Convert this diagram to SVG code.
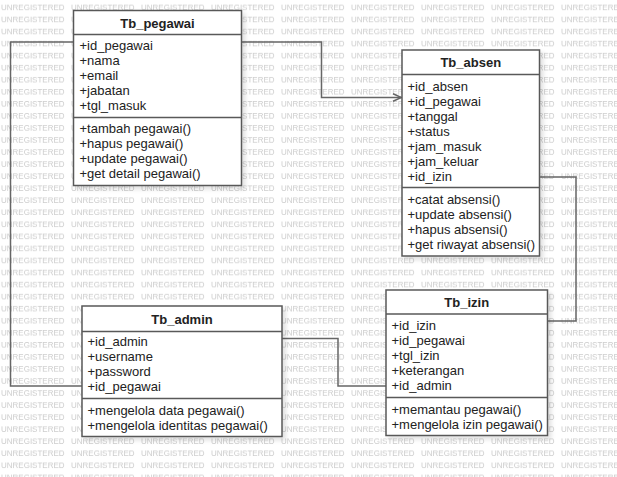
<svg xmlns="http://www.w3.org/2000/svg" width="617" height="477" viewBox="0 0 617 477">
<style>
.wm{font-family:"Liberation Sans",Arial,sans-serif;font-size:8px;fill:#cccccc}
.box{fill:#ffffff;stroke:#595959;stroke-width:1.5}
.div{stroke:#595959;stroke-width:1.5}
.t{font-family:"Liberation Sans",Arial,sans-serif;font-size:13px;fill:#222222}
.h{font-family:"Liberation Sans",Arial,sans-serif;font-size:13px;font-weight:bold;fill:#222222;text-anchor:middle}
.c{fill:none;stroke:#666666;stroke-width:1.5}
</style>
<defs>
<pattern id="wmp" patternUnits="userSpaceOnUse" x="0" y="0" width="70" height="12.05">
<text class="wm" x="1" y="10.5">UNREGISTERED</text>
</pattern>
<filter id="sh" x="-10%" y="-10%" width="130%" height="130%">
<feDropShadow dx="3" dy="3" stdDeviation="2" flood-color="#000000" flood-opacity="0.12"/>
</filter>
<marker id="open" viewBox="0 0 10 10" refX="9.5" refY="5" markerWidth="10" markerHeight="10" markerUnits="userSpaceOnUse" orient="auto">
<path d="M1,1.2 L9.5,5 L1,8.8" fill="none" stroke="#666666" stroke-width="1.5"/>
</marker>
</defs>
<rect width="617" height="477" fill="#ffffff"/>
<rect width="617" height="477" fill="url(#wmp)"/>
<g id="connectors">
<path class="c" d="M241.5,42 H321.5 V97.5 H401.5" marker-end="url(#open)"/>
<path class="c" d="M73.5,42 H10.5 V386 H82"/>
<path class="c" d="M282,338.5 H338 V386 H386"/>
<path class="c" d="M539.5,177 H576 V321 H547.5"/>
</g>
<g id="Tb_pegawai">
<rect class="box" x="73.5" y="10.5" width="168" height="175" filter="url(#sh)"/>
<line class="div" x1="73.5" y1="34.5" x2="241.5" y2="34.5"/>
<line class="div" x1="73.5" y1="117.5" x2="241.5" y2="117.5"/>
<text class="h" x="157.5" y="27.5">Tb_pegawai</text>
<text class="t" x="79.5" y="50">+id_pegawai</text>
<text class="t" x="79.5" y="65">+nama</text>
<text class="t" x="79.5" y="80">+email</text>
<text class="t" x="79.5" y="95">+jabatan</text>
<text class="t" x="79.5" y="110">+tgl_masuk</text>
<text class="t" x="79.5" y="133">+tambah pegawai()</text>
<text class="t" x="79.5" y="148">+hapus pegawai()</text>
<text class="t" x="79.5" y="163">+update pegawai()</text>
<text class="t" x="79.5" y="178">+get detail pegawai()</text>
</g>
<g id="Tb_absen">
<rect class="box" x="402" y="50" width="137.5" height="206" filter="url(#sh)"/>
<line class="div" x1="402" y1="74.5" x2="539.5" y2="74.5"/>
<line class="div" x1="402" y1="187.5" x2="539.5" y2="187.5"/>
<text class="h" x="470.75" y="67">Tb_absen</text>
<text class="t" x="407.5" y="90.5">+id_absen</text>
<text class="t" x="407.5" y="105.5">+id_pegawai</text>
<text class="t" x="407.5" y="120.5">+tanggal</text>
<text class="t" x="407.5" y="135.5">+status</text>
<text class="t" x="407.5" y="150.5">+jam_masuk</text>
<text class="t" x="407.5" y="165.5">+jam_keluar</text>
<text class="t" x="407.5" y="180.5">+id_izin</text>
<text class="t" x="407.5" y="204">+catat absensi()</text>
<text class="t" x="407.5" y="219">+update absensi()</text>
<text class="t" x="407.5" y="234">+hapus absensi()</text>
<text class="t" x="407.5" y="249">+get riwayat absensi()</text>
</g>
<g id="Tb_admin">
<rect class="box" x="82" y="306" width="200" height="130.5" filter="url(#sh)"/>
<line class="div" x1="82" y1="331.5" x2="282" y2="331.5"/>
<line class="div" x1="82" y1="398.5" x2="282" y2="398.5"/>
<text class="h" x="182" y="323.5">Tb_admin</text>
<text class="t" x="87.5" y="346">+id_admin</text>
<text class="t" x="87.5" y="361">+username</text>
<text class="t" x="87.5" y="376">+password</text>
<text class="t" x="87.5" y="391">+id_pegawai</text>
<text class="t" x="87.5" y="414.5">+mengelola data pegawai()</text>
<text class="t" x="87.5" y="429.5">+mengelola identitas pegawai()</text>
</g>
<g id="Tb_izin">
<rect class="box" x="386" y="290" width="161.5" height="145.5" filter="url(#sh)"/>
<line class="div" x1="386" y1="314" x2="547.5" y2="314"/>
<line class="div" x1="386" y1="397.5" x2="547.5" y2="397.5"/>
<text class="h" x="466.75" y="307">Tb_izin</text>
<text class="t" x="391.5" y="330">+id_izin</text>
<text class="t" x="391.5" y="345">+id_pegawai</text>
<text class="t" x="391.5" y="360">+tgl_izin</text>
<text class="t" x="391.5" y="375">+keterangan</text>
<text class="t" x="391.5" y="390">+id_admin</text>
<text class="t" x="391.5" y="413.5">+memantau pegawai()</text>
<text class="t" x="391.5" y="428.5">+mengelola izin pegawai()</text>
</g>
</svg>
